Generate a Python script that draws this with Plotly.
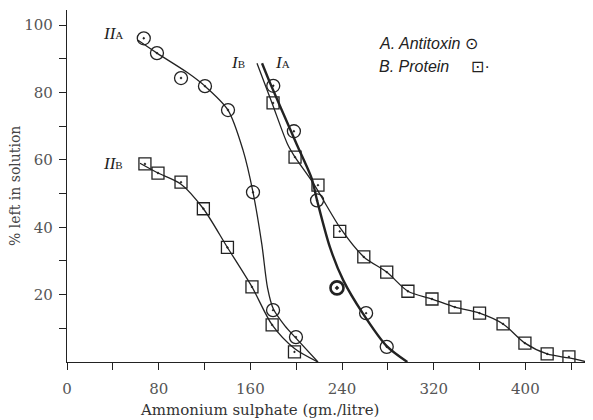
import plotly.graph_objects as go

# ---- data ----
# Series IIA (antitoxin, circles)
iia_x = [67, 78.5, 99.5, 120.4, 140.5, 162.3, 179.8, 199.8]
iia_y = [96.1, 91.7, 84.3, 81.9, 74.8, 50.4, 15.4, 7.4]
iia_curve_x = [62, 78.5, 104.7, 120.4, 140.5, 153.6, 162.3, 170, 175, 180, 190, 200, 219]
iia_curve_y = [95.5, 91.7, 86, 81.9, 74.8, 62.9, 50.4, 35, 22, 15.8, 10.8, 7, 0]

# Series IIB (protein, squares)
iib_x = [68, 79.4, 99.5, 119, 140, 161.4, 179, 198.5]
iib_y = [58.8, 56.1, 53.4, 45.5, 34, 22.3, 11, 3]
iib_curve_x = [63.7, 79.4, 99.5, 119, 140, 161.4, 179, 198.5, 219]
iib_curve_y = [59, 56.1, 52.8, 45.5, 34, 22.3, 11, 4, 0]

# Series IA (antitoxin, circles)
ia_x = [180, 198, 218.2, 235.6, 261, 279]
ia_y = [82, 68.5, 48, 22, 14.5, 4.5]
ia_curve_x = [170.2, 178, 195.5, 200.7, 213.5, 218.2, 229.5, 241, 258, 279, 297]
ia_curve_y = [88.7, 82.2, 68.5, 64.4, 54.5, 48, 34, 24.3, 14.5, 4.7, 0]

# Series IB (protein, squares)
ib_x = [179.8, 199, 219, 238, 259, 279, 297.5, 318.5, 338.5, 360, 380.5, 399.6, 419, 438]
ib_y = [76.9, 60.8, 52.5, 38.8, 31.2, 26.7, 21, 18.7, 16.3, 14.5, 11.3, 5.6, 2.4, 1.5]
ib_curve_x = [165.8, 178.9, 192.8, 199, 215, 239, 259, 279, 297.5, 318.5, 338.5, 360, 380.5, 399.6, 419, 438, 454]
ib_curve_y = [88.7, 76.9, 64.4, 60.8, 53, 39.5, 31.2, 26.7, 21, 18.7, 16.3, 14.5, 11.3, 5.6, 2.4, 1.2, 0]

x_ticks = [0, 40, 80, 120, 160, 200, 240, 280, 320, 360, 400, 440]
x_labels = ["0", "", "80", "", "160", "", "240", "", "320", "", "400", ""]
y_ticks = [10, 20, 30, 40, 50, 60, 70, 80, 90, 100]
y_labels = ["", "20", "", "40", "", "60", "", "80", "", "100"]

INK = "#222222"
fig = go.Figure()

def curve(x, y, w):
    fig.add_trace(go.Scatter(x=x, y=y, mode="lines",
                             line=dict(color=INK, width=w, shape="spline", smoothing=0.8),
                             hoverinfo="skip", showlegend=False))

def pts(x, y, sym, size, lw):
    fig.add_trace(go.Scatter(x=x, y=y, mode="markers",
                             marker=dict(symbol=sym, size=size, color=INK,
                                         line=dict(width=lw, color=INK)),
                             showlegend=False))

curve(iia_curve_x, iia_curve_y, 1.3)
curve(iib_curve_x, iib_curve_y, 1.3)
curve(ib_curve_x, ib_curve_y, 1.3)
curve(ia_curve_x, ia_curve_y, 2.4)

pts(iia_x, iia_y, "circle-open-dot", 13, 1.3)
pts(ia_x, ia_y, "circle-open-dot", 13, [1.3, 1.3, 1.3, 2.6, 1.3, 1.3])
pts(iib_x, iib_y, "square-open-dot", 12, 1.3)
pts(ib_x, ib_y, "square-open-dot", 12, 1.3)

serif = "DejaVu Serif, Liberation Serif, serif"
lab_font = dict(family="Liberation Serif, serif", size=17, color=INK)
small = "<span style='font-size:11px;font-style:normal'>%s</span>"

labels = [("<i>II</i>" + small % "A", 40, 97.6),
          ("<i>II</i>" + small % "B", 40, 59),
          ("<i>I</i>" + small % "B", 149, 89),
          ("<i>I</i>" + small % "A", 188, 89)]
for t, x, y in labels:
    fig.add_annotation(x=x, y=y, xref="x", yref="y", text=t, showarrow=False,
                       font=lab_font)

# The page is shown with an 8px body margin; the figure is sized so that the
# plot area lands on window pixels x 67..593 and y 10..362.
OFF = 8
W, H = 593 - OFF, 420 - OFF
L, T, B = 67 - OFF, 10 - OFF, 58
pw, ph = W - L, H - T - B

def px_x(px):
    return (px - OFF - L) / pw

def px_y(py):
    return 1 - (py - OFF - T) / ph

hand = dict(family="Liberation Sans, Arial, sans-serif", size=16, color=INK)
fig.add_annotation(x=px_x(377), y=px_y(43), xref="paper", yref="paper",
                   text="<i>A. Antitoxin</i> ⊙",
                   showarrow=False, font=hand, xanchor="left", yanchor="middle")
fig.add_annotation(x=px_x(377), y=px_y(67), xref="paper", yref="paper",
                   text="<i>B. Protein</i>     ⊡·",
                   showarrow=False, font=hand, xanchor="left", yanchor="middle")

fig.add_annotation(x=px_x(260), y=px_y(410), xref="paper", yref="paper",
                   text="Ammonium sulphate (gm./litre)", showarrow=False,
                   font=dict(family=serif, size=15, color="#333333"),
                   xanchor="center", yanchor="middle")
fig.add_annotation(x=px_x(15), y=px_y(186), xref="paper", yref="paper",
                   text="% left in solution", textangle=-90, showarrow=False,
                   font=dict(family=serif, size=14, color="#444444"),
                   xanchor="center", yanchor="middle")

axis_common = dict(showline=True, linecolor=INK, linewidth=1.4, ticks="outside",
                   ticklen=7, tickwidth=1.2, tickcolor=INK, showgrid=False, zeroline=False,
                   automargin=False,
                   tickfont=dict(family=serif, size=15, color="#555555"))
fig.update_xaxes(range=[0, 459], tickvals=x_ticks, ticktext=x_labels,
                 ticklabelstandoff=6, **axis_common)
fig.update_yaxes(range=[0, 104.5], tickvals=y_ticks, ticktext=y_labels,
                 ticklabelstandoff=3, **axis_common)

fig.update_layout(width=W, height=H, margin=dict(l=L, r=0, t=T, b=B, autoexpand=False),
                  plot_bgcolor="white", paper_bgcolor="white", showlegend=False)

fig.write_html("out.html")
